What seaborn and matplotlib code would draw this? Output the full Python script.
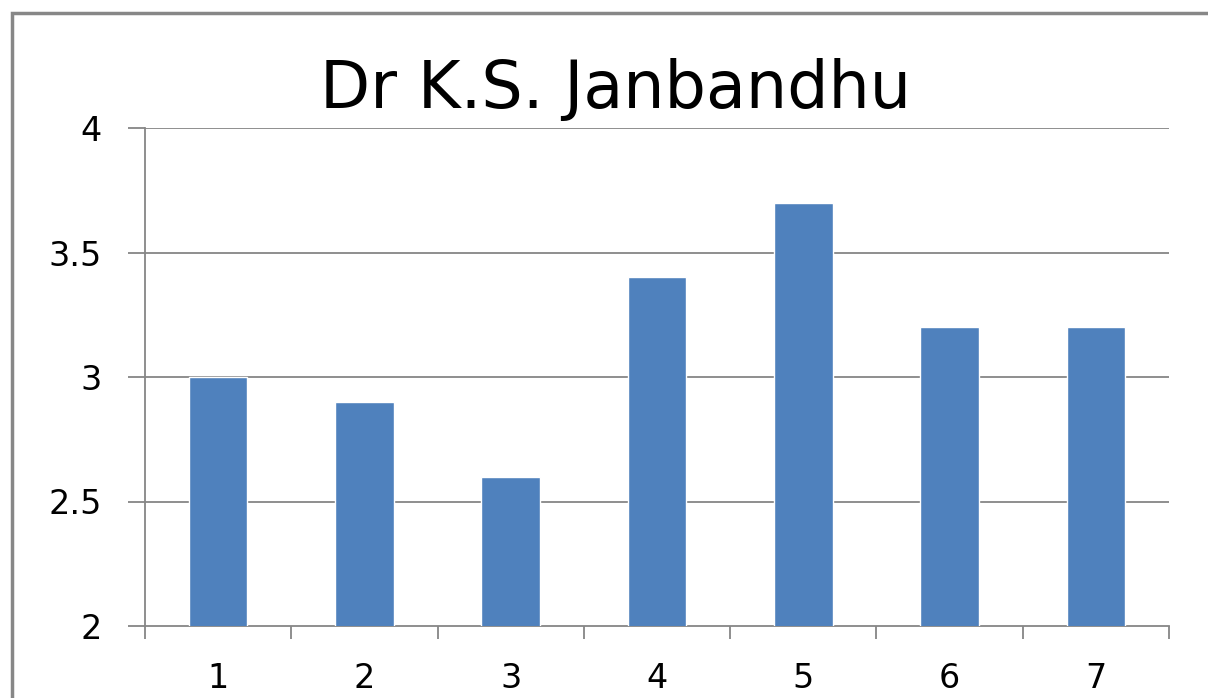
import numpy as np
import pandas as pd
import matplotlib
matplotlib.use("Agg")
import matplotlib.pyplot as plt
from matplotlib.patches import Rectangle
import seaborn as sns

# dane
categories = ["1", "2", "3", "4", "5", "6", "7"]
values = [3.0, 2.9, 2.6, 3.4, 3.7, 3.2, 3.2]
y_ticks = [2, 2.5, 3, 3.5, 4]
y_labels = ["2", "2.5", "3", "3.5", "4"]
title = "Dr K.S. Janbandhu"

df = pd.DataFrame({"kat": categories, "wartosc": values})

sns.set_style("white")
plt.rcParams["font.family"] = ["DejaVu Sans"]

fig = plt.figure(figsize=(12.08, 6.98), dpi=100)
ax = fig.add_axes([145 / 1208, 1 - 626 / 698, (1169 - 145) / 1208, (626 - 128) / 698])

sns.barplot(data=df, x="kat", y="wartosc", color="#4F81BD", width=0.4,
            saturation=1, errorbar=None, ax=ax, zorder=3)

ax.set_ylim(2, 4)
ax.set_xlim(-0.5, len(categories) - 0.5)
ax.set_yticks(y_ticks)
ax.set_yticklabels(y_labels)
ax.set_xlabel("")
ax.set_ylabel("")

grid_col = "#868686"
for y in y_ticks[1:]:
    ax.axhline(y, color=grid_col, lw=1.3, zorder=1)

for s in ["top", "right"]:
    ax.spines[s].set_visible(False)
for s in ["left", "bottom"]:
    ax.spines[s].set_color(grid_col)
    ax.spines[s].set_linewidth(1.3)

ax.tick_params(axis="y", direction="out", length=12, width=1.3, color=grid_col,
               pad=19, labelsize=24, labelcolor="black", left=True)
ax.tick_params(axis="x", which="major", length=0, pad=26, labelsize=24,
               labelcolor="black")
ax.set_xticks(np.arange(-0.5, len(categories) + 0.5, 1), minor=True)
ax.tick_params(axis="x", which="minor", direction="out", length=9, width=1.3,
               color=grid_col, bottom=True)

fig.text(615 / 1208, 1 - 108 / 698, title, ha="center", va="baseline",
         fontsize=47, color="black")

fig.patches.append(Rectangle((12 / 1208, -0.1), 1.2, 1 - 13 / 698 + 0.1,
                             transform=fig.transFigure, fill=False,
                             edgecolor="#878787", lw=2.5))

plt.savefig("out.png", dpi=100)
